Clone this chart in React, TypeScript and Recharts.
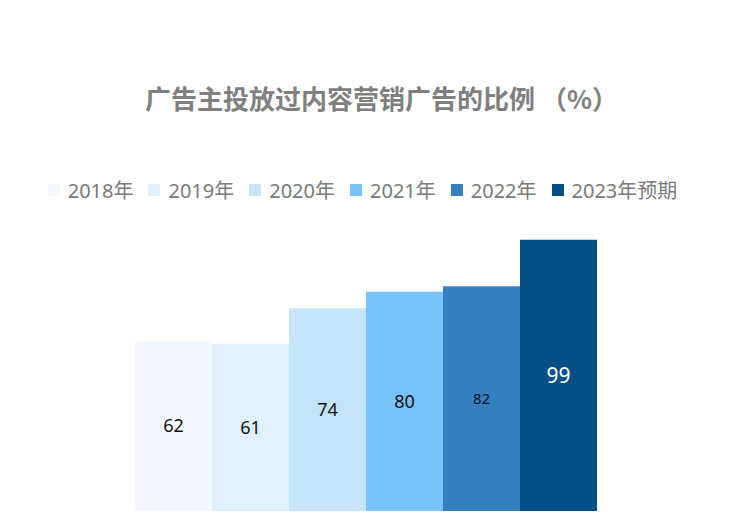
import React from "react";
import { BarChart, Bar, XAxis, YAxis, LabelList } from "recharts";

const seriesKeys = ["y2018", "y2019", "y2020", "y2021", "y2022", "y2023"];
const seriesNames = ["2018年", "2019年", "2020年", "2021年", "2022年", "2023年预期"];
const seriesValues = [62, 61, 74, 80, 82, 99];
const seriesColors = ["#F4F9FF", "#E0F0FE", "#C4E4FC", "#79C3FC", "#3580BE", "#034F88"];
const labelColors = ["#111", "#111", "#111", "#111", "#111", "#fff"];
const labelSizes = [18, 18, 18, 18, 15, 21];

const row: Record<string, number | string> = { name: "比例" };
seriesKeys.forEach((k, i) => {
  row[k] = seriesValues[i];
});
const data = [row];

const font = '"Noto Sans", "Noto Sans CJK SC", sans-serif';

const LegendRow = () => (
  <div
    style={{
      position: "absolute",
      top: 175,
      left: -9,
      width: 743,
      display: "flex",
      justifyContent: "center",
      fontFamily: font,
      fontSize: 20,
      color: "#7a7a7a",
    }}
  >
    {seriesNames.map((n, i) => (
      <div
        key={n}
        style={{ display: "flex", alignItems: "center", marginRight: i < 5 ? 15 : 0 }}
      >
        <span
          style={{
            display: "inline-block",
            width: 12,
            height: 12,
            background: seriesColors[i],
            marginRight: 8,
          }}
        />
        <span>{n}</span>
      </div>
    ))}
  </div>
);

export default function App() {
  return (
    <div
      style={{
        position: "absolute",
        left: 0,
        top: 0,
        width: 743,
        height: 527,
        background: "#fff",
      }}
    >
      <div
        style={{
          position: "absolute",
          top: 79,
          left: 10,
          width: 743,
          textAlign: "center",
          fontFamily: '"Noto Sans CJK SC", sans-serif',
          fontWeight: "bold",
          fontSize: 26,
          color: "#7f7f7f",
          whiteSpace: "pre",
        }}
      >
        {"广告主投放过内容营销广告的比例 （%）"}
      </div>
      <LegendRow />
      <BarChart
        width={743}
        height={527}
        data={data}
        margin={{ top: 237, right: 146, bottom: 16, left: 135 }}
        barCategoryGap={0}
        barGap={0}
      >
        <XAxis dataKey="name" hide />
        <YAxis hide domain={[0, 100]} />
        {seriesKeys.map((k, i) => (
          <Bar
            key={k}
            dataKey={k}
            name={seriesNames[i]}
            fill={seriesColors[i]}
            isAnimationActive={false}
          >
            <LabelList
              dataKey={k}
              position="center"
              fill={labelColors[i]}
              fontSize={labelSizes[i]}
              fontFamily={font}
            />
          </Bar>
        ))}
      </BarChart>
    </div>
  );
}
